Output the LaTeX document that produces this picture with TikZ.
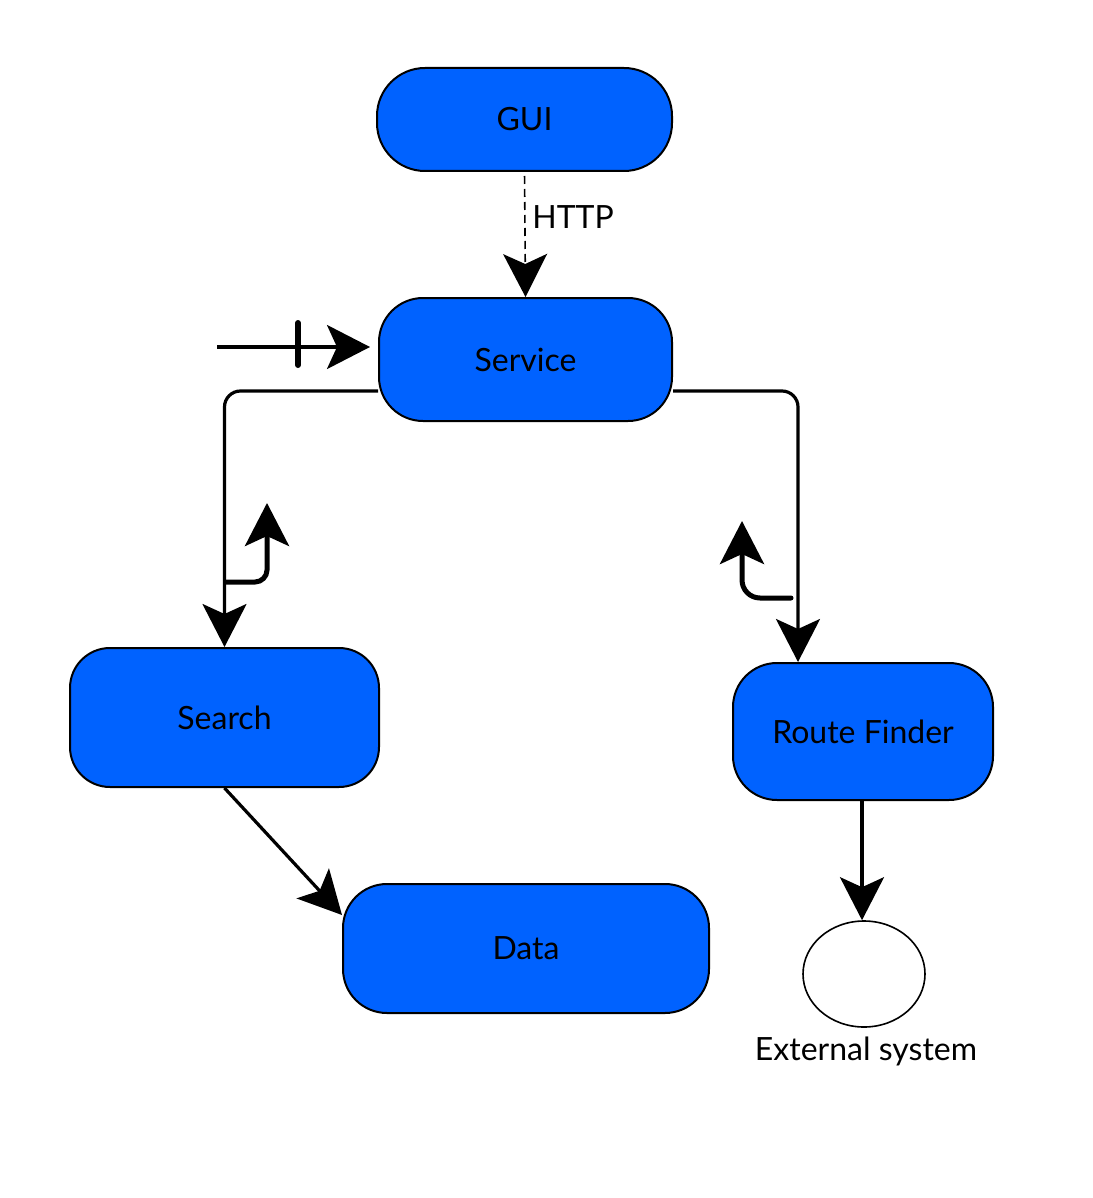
\documentclass[tikz,border=0pt]{standalone}
\usepackage{fontspec}
\setmainfont{Lato}
\usetikzlibrary{arrows.meta,calc,shapes.geometric}
\definecolor{boxblue}{RGB}{0,98,255}
\begin{document}
\begin{tikzpicture}[x=0.5pt,y=-0.5pt,
  txt/.style={font=\fontsize{16}{19}\selectfont},
  box/.style={draw=black,line width=1pt,fill=boxblue,rounded corners=22pt,inner sep=0pt,txt},
  tip/.style={-{Stealth[length=21.5pt,width=22pt,inset=5pt]}},
  conn/.style={line width=1.6pt,tip},
  hookarrow/.style={line width=2.5pt,line cap=round,rounded corners=6pt,tip},
  barmark/.style={line width=3pt,line cap=round}]
\useasboundingbox (0,0) rectangle (1092,1198);

\node[box,minimum width=147.5pt,minimum height=51.5pt,rounded corners=24pt] (gui) at (524.5,119.5) {GUI};
\node[box,minimum width=146.5pt,minimum height=61.5pt] (svc) at (525.5,359.5) {Service};
\node[box,minimum width=154.5pt,minimum height=69.5pt,rounded corners=20pt] (search) at (224.5,717.5) {Search};
\node[box,minimum width=130pt,minimum height=68.5pt] (rf) at (863,731.5) {Route Finder};
\node[box,minimum width=183pt,minimum height=64.5pt] (data) at (526,948.5) {Data};
\node[draw=black,line width=0.8pt,fill=white,ellipse,minimum width=61pt,minimum height=53pt,inner sep=0pt] (ext) at (864,974) {};
\node[txt] (extlbl) at (866,1051) {External system};

% GUI -> Service
\draw[line width=0.8pt,dash pattern=on 4pt off 2.5pt,tip,shorten <=2pt] (gui.south) -- (svc.north)
  node[pos=0.36,right=0pt,txt] {HTTP};

% entry arrow
\coordinate (entry) at (217,347);
\coordinate (barc) at (298,344);
\draw[conn] (entry) -- ([yshift=6.25pt,xshift=-4pt]svc.west);
\draw[barmark] (barc) ++(0,-21) -- ++(0,42);

% Service -> Search
\draw[conn,rounded corners=8pt] ([yshift=-15.75pt]svc.west) -| (search.north);
% Service -> Route Finder
\draw[conn,rounded corners=8pt] ([yshift=-15.75pt]svc.east) -| ([xshift=-32.5pt]rf.north);

% hooks
\coordinate (h1s) at (226,582);
\coordinate (h1e) at (267,503);
\draw[hookarrow,line cap=butt] (h1s) -| (h1e);
\coordinate (h2s) at (791,598);
\coordinate (h2e) at (742,521);
\draw[hookarrow,rounded corners=9pt] (h2s) -| (h2e);

% Search -> Data
\draw[conn] (search.south) -- ([yshift=16.75pt]data.west);
% Route Finder -> External
\draw[conn] ([xshift=-0.5pt]rf.south) -- ([xshift=-1pt]ext.north);
\end{tikzpicture}
\end{document}
